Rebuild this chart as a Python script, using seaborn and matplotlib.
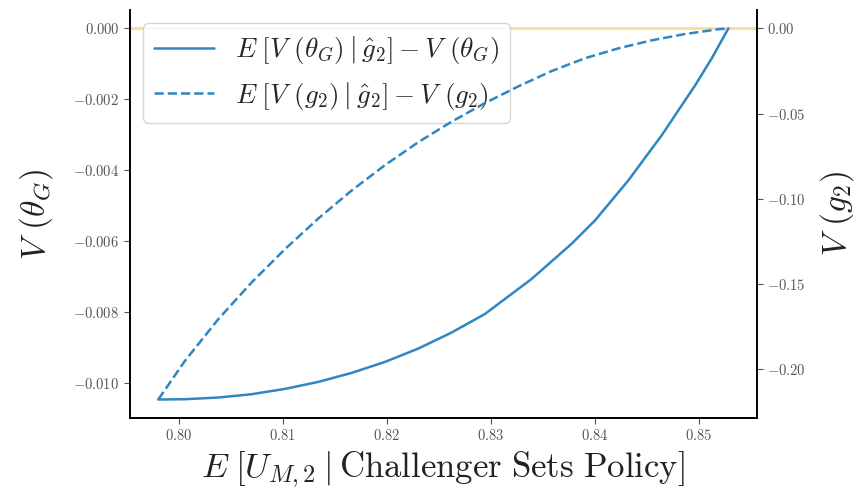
import numpy as np
import pandas as pd
import matplotlib
matplotlib.use("Agg")
import matplotlib.pyplot as plt
import seaborn as sns

# Data
x_theta = [0.79805, 0.80061, 0.80382, 0.80702, 0.81022, 0.81343, 0.81663,
           0.81984, 0.82305, 0.82625, 0.82945, 0.83394, 0.83779, 0.84003,
           0.84324, 0.84644, 0.84965, 0.85125, 0.85286]
theta_vals = [-0.010459, -0.010451, -0.010403, -0.010310, -0.010161,
              -0.009963, -0.009710, -0.009400, -0.009023, -0.008572,
              -0.008050, -0.007062, -0.006070, -0.005414, -0.004285,
              -0.003017, -0.001611, -0.000850, 0.0]
x_g2 = [0.79805, 0.80061, 0.80382, 0.80702, 0.81022, 0.81343, 0.81663,
        0.81984, 0.82305, 0.82625, 0.82945, 0.83266, 0.83587, 0.83907,
        0.84228, 0.84548, 0.84869, 0.85190, 0.85286]
g2_vals = [-0.2176, -0.1950, -0.1705, -0.1490, -0.1295, -0.1115, -0.0951,
           -0.0802, -0.0667, -0.0547, -0.0438, -0.0340, -0.0250, -0.0175,
           -0.0117, -0.0070, -0.0033, -0.0005, 0.0]

label_theta = r"$E\;[V$ $(\theta_G)\mid\hat{g}_2]-V$ $(\theta_G)$"
label_g2 = r"$E\;[V$ $(g_2)\mid\hat{g}_2]-V$ $(g_2)$"
xlabel = r"$E\;[U_{M,2}\mid\mathrm{Challenger\ Sets\ Policy}]$"
ylabel_left = r"$V$ $(\theta_G)$"
ylabel_right = r"$V$ $(g_2)$"

sns.set_style("ticks")
plt.rcParams["font.family"] = "serif"
plt.rcParams["font.serif"] = ["cmr10", "DejaVu Serif"]
plt.rcParams["mathtext.fontset"] = "cm"
plt.rcParams["axes.formatter.use_mathtext"] = True
plt.rcParams["axes.unicode_minus"] = True

df_t = pd.DataFrame({"x": x_theta, "y": theta_vals})
df_g = pd.DataFrame({"x": x_g2, "y": g2_vals})
blue = "#2f86c4"

fig = plt.figure(figsize=(8.65, 4.93), dpi=100)
ax = fig.add_axes([0.150, 0.152, 0.725, 0.828])
ax.axhline(0, color="orange", alpha=0.4, lw=2, zorder=1)
sns.lineplot(data=df_t, x="x", y="y", ax=ax, color=blue, lw=1.8,
             label=label_theta, legend=False, zorder=3)
ax2 = ax.twinx()
sns.lineplot(data=df_g, x="x", y="y", ax=ax2, color=blue, lw=1.8,
             linestyle="--", label=label_g2, legend=False)

for a in (ax, ax2):
    a.spines["top"].set_visible(False)
    a.tick_params(labelsize=10.5, colors="#555555", length=4)
    for s in a.spines.values():
        s.set_color("black")
        s.set_linewidth(1.2)

ax.set_xlabel(xlabel, fontsize=25, color="#222222")
ax.set_ylabel(ylabel_left, fontsize=24, color="#222222", labelpad=13)
ax2.set_ylabel(ylabel_right, fontsize=24, color="#222222", labelpad=9)

h1, l1 = ax.get_legend_handles_labels()
h2, l2 = ax2.get_legend_handles_labels()
leg = ax.legend(h1 + h2, l1 + l2, loc="upper left", fontsize=19.5,
                frameon=True, framealpha=0.8, edgecolor="#cccccc",
                borderaxespad=0.5, handlelength=2.2)
leg.set_zorder(5)

fig.savefig("out.png", dpi=100)
